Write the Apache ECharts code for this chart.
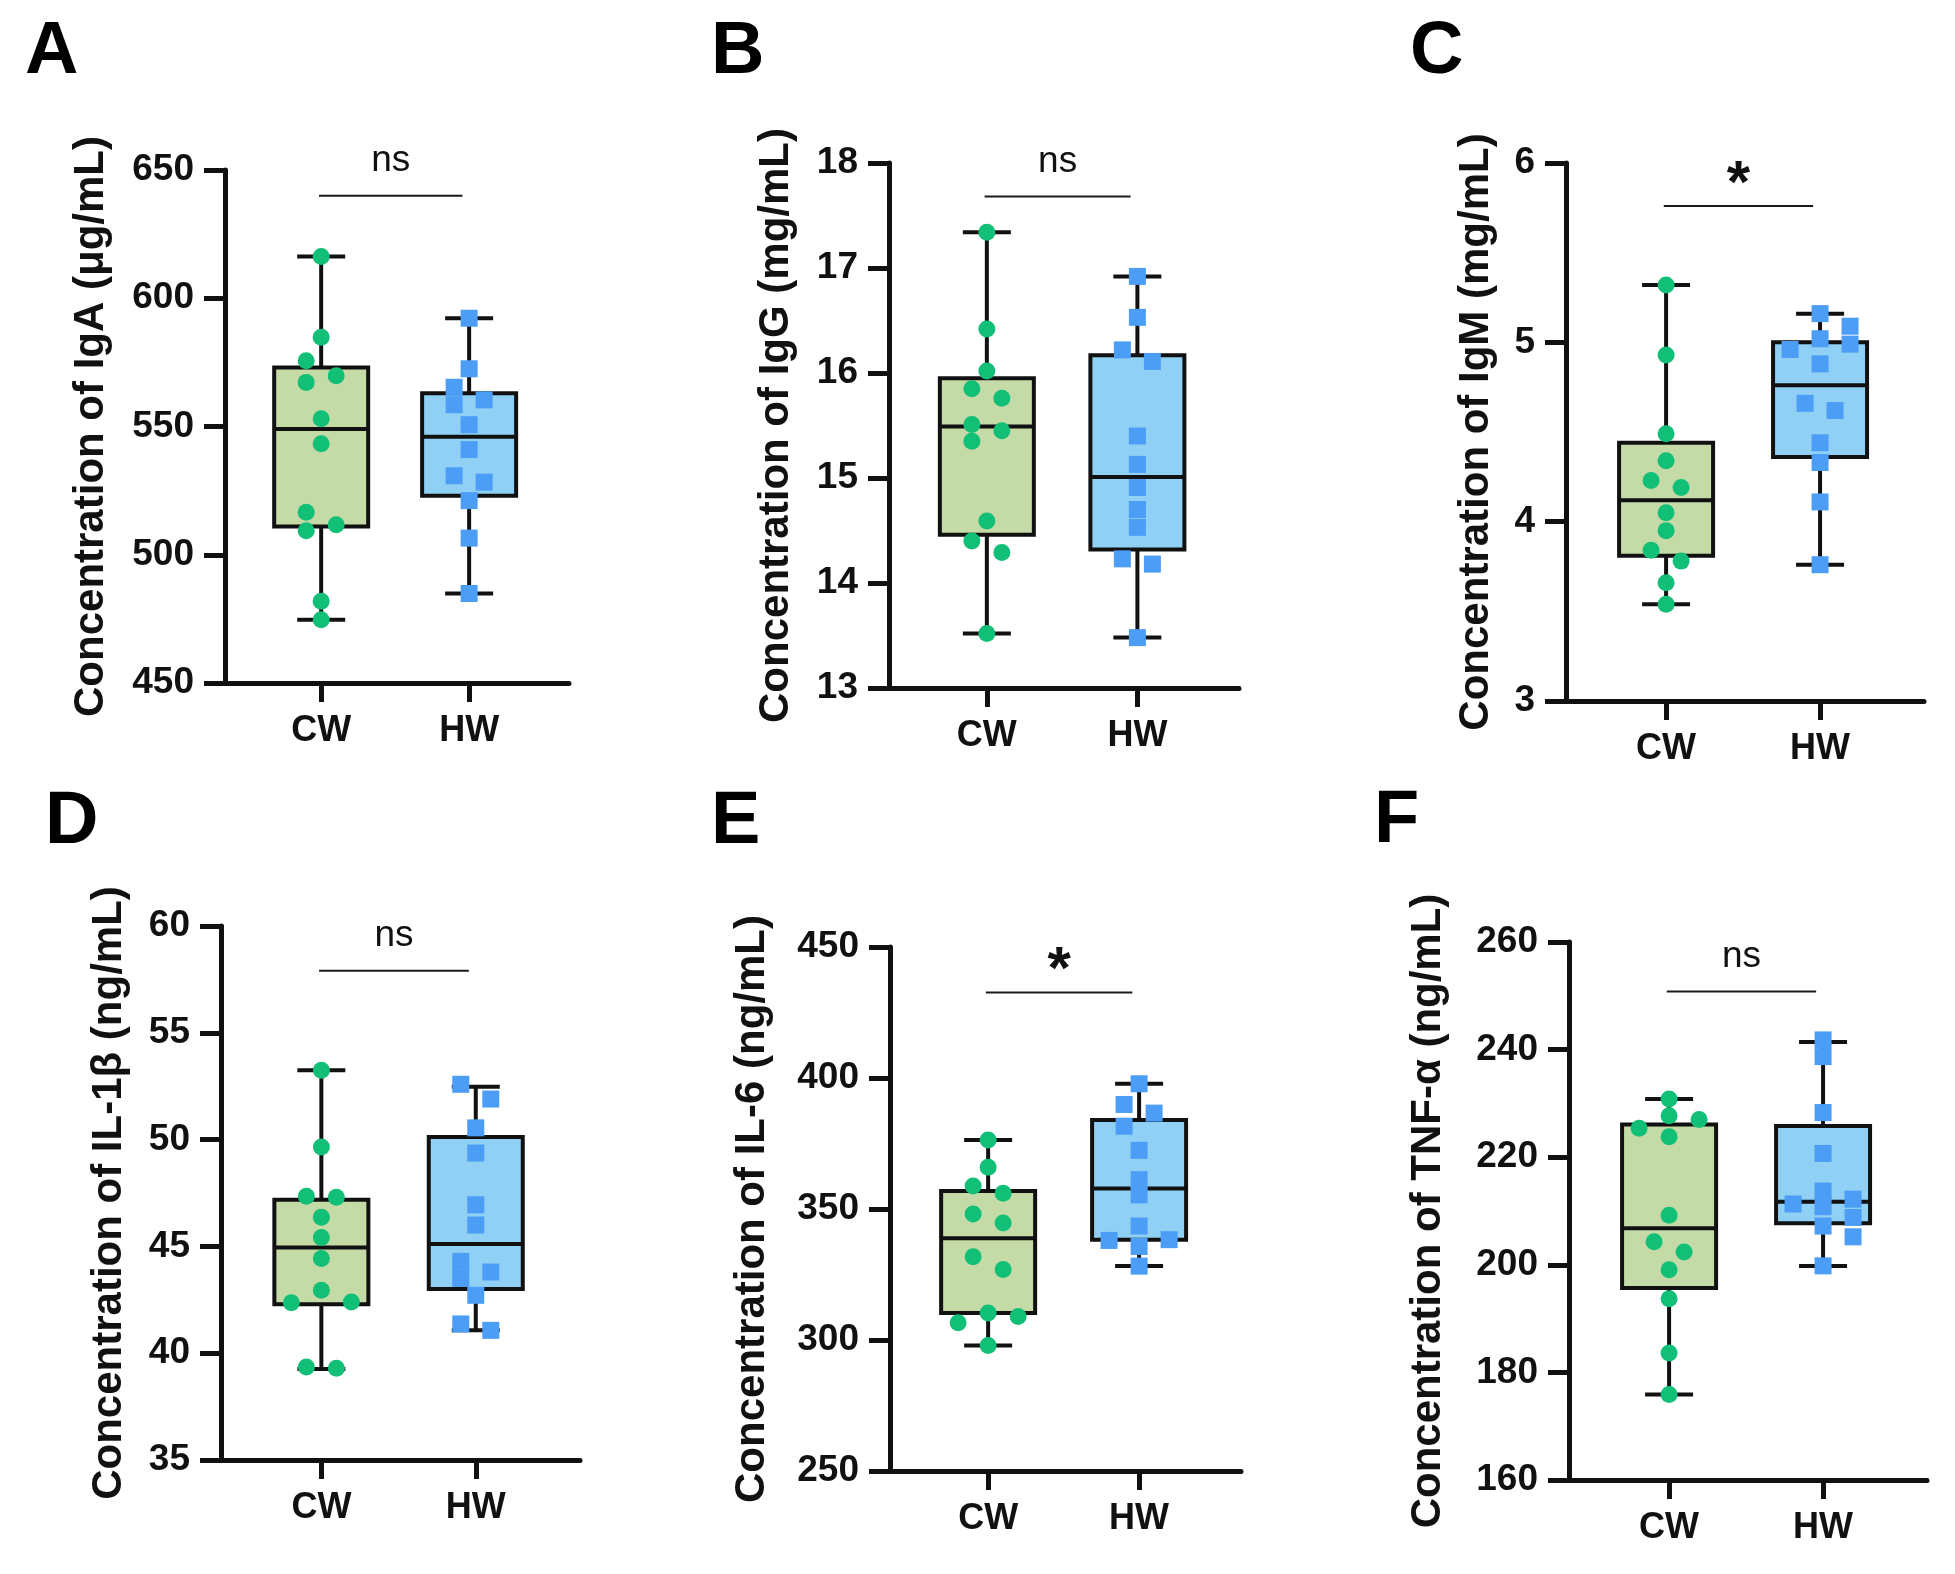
<!DOCTYPE html>
<html><head><meta charset="utf-8">
<script src="https://cdn.jsdelivr.net/npm/echarts@6/dist/echarts.min.js"></script>
<style>html,body{margin:0;padding:0;background:#fff;overflow:hidden}#c{width:1955px;height:1574px}</style>
</head><body><div id="c"></div>
<script>
// ---------- DATA ----------
const groups = ['CW', 'HW'];
const panelLetters = ['A', 'B', 'C', 'D', 'E', 'F'];
const yTitles = [
  'Concentration of IgA (\u03bcg/mL)',
  'Concentration of IgG (mg/mL)',
  'Concentration of IgM (mg/mL)',
  'Concentration of IL-1\u03b2 (ng/mL)',
  'Concentration of IL-6 (ng/mL)',
  'Concentration of TNF-\u03b1 (ng/mL)'
];
const yMins = [450, 13, 3, 35, 250, 160];
const yMaxs = [650, 18, 6, 60, 450, 260];
const yIntervals = [50, 1, 1, 5, 50, 20];
const sigLabels = ['ns', 'ns', '*', 'ns', '*', 'ns'];
const sigLevels = [640, 17.68, 5.76, 57.9, 432.6, 250.8];

// individual points
const igaCW = [616.3, 584.8, 575.6, 569.8, 567.2, 553.0, 543.3, 516.6, 511.7, 509.4, 481.9, 474.7];
const igaHW = [592.2, 572.5, 565.3, 560.4, 558.5, 550.7, 541.0, 530.8, 528.3, 521.1, 506.5, 484.9];
const iggCW = [17.34, 16.42, 16.02, 15.85, 15.76, 15.51, 15.45, 15.35, 14.59, 14.40, 14.29, 13.52];
const iggHW = [16.92, 16.53, 16.22, 16.11, 15.40, 15.13, 14.91, 14.70, 14.53, 14.23, 14.18, 13.48];
const igmCW = [5.32, 4.93, 4.49, 4.34, 4.23, 4.19, 4.05, 3.95, 3.84, 3.78, 3.66, 3.54];
const igmHW = [5.16, 5.09, 5.02, 4.99, 4.96, 4.88, 4.66, 4.62, 4.44, 4.33, 4.11, 3.76];
const il1bCW = [53.25, 49.65, 47.35, 47.30, 46.36, 45.42, 44.43, 42.95, 42.40, 42.36, 39.35, 39.30];
const il1bHW = [52.59, 51.90, 50.55, 49.37, 46.95, 46.00, 44.30, 43.80, 43.50, 42.71, 41.37, 41.07];
const il6CW = [376.3, 365.9, 358.8, 356.0, 348.1, 344.7, 331.8, 326.9, 310.3, 309.0, 306.6, 297.9];
const il6HW = [397.8, 389.9, 386.6, 381.6, 372.4, 361.2, 355.4, 343.5, 338.3, 338.0, 335.7, 328.2];
const tnfCW = [230.8, 227.7, 227.0, 225.4, 223.8, 209.2, 204.3, 202.4, 199.1, 193.7, 183.6, 175.9];
const tnfHW = [241.8, 238.7, 228.3, 220.7, 213.7, 212.2, 211.3, 210.8, 208.8, 207.2, 205.2, 199.8];

// box statistics: [min, Q1, median, Q3, max]
const igaCWBox = [474.7, 511, 549, 573, 616.3];
const igaHWBox = [484.9, 523, 546, 563, 592.2];
const iggCWBox = [13.52, 14.46, 15.49, 15.95, 17.34];
const iggHWBox = [13.48, 14.32, 15.01, 16.17, 16.92];
const igmCWBox = [3.54, 3.81, 4.12, 4.44, 5.32];
const igmHWBox = [3.76, 4.36, 4.76, 5.00, 5.16];
const il1bCWBox = [39.26, 42.29, 44.95, 47.18, 53.25];
const il1bHWBox = [41.07, 43.00, 45.11, 50.12, 52.47];
const il6CWBox = [297.9, 310.3, 338.8, 356.9, 376.3];
const il6HWBox = [328.2, 338.3, 357.8, 384.0, 397.8];
const tnfCWBox = [175.9, 195.7, 206.8, 226.1, 230.8];
const tnfHWBox = [199.8, 207.7, 211.7, 225.8, 241.4];

const pointsCW = [igaCW, iggCW, igmCW, il1bCW, il6CW, tnfCW];
const pointsHW = [igaHW, iggHW, igmHW, il1bHW, il6HW, tnfHW];
const boxesCW = [igaCWBox, iggCWBox, igmCWBox, il1bCWBox, il6CWBox, tnfCWBox];
const boxesHW = [igaHWBox, iggHWBox, igmHWBox, il1bHWBox, il6HWBox, tnfHWBox];

// ---------- LAYOUT / STYLE ----------
const gridRects = [
  {left: 225, top: 170, width: 344, height: 513},
  {left: 889, top: 163, width: 350, height: 525},
  {left: 1566, top: 163, width: 358, height: 538},
  {left: 221, top: 926, width: 359, height: 534},
  {left: 890, top: 947, width: 351, height: 524},
  {left: 1569, top: 942, width: 358, height: 538}
];
const nameGaps = [113, 92, 69, 91, 117, 120];
// [glyph left, glyph vertical centre]
const letterPos = [[25, 53], [711, 53], [1410, 53], [45, 823], [711, 823], [1374, 822]];
const X_MIN = -0.65, X_MAX = 1.675;
const FONT = "'Liberation Sans', Arial, Helvetica, sans-serif";
const INK = '#111111';
const dotColors = ['#12BF77', '#4C9DF6'];
const boxFills = ['#C4DBA8', '#8FD0F4'];
const BOX_HALF = 47, CAP_HALF = 24, COL_PX = 30, THR_PX = 15, SYM = 17, LW = 4, AXIS_LW = 5;

// beeswarm offsets (in px) computed from the values and the axis scale
function swarm(vals, pxPerUnit) {
  const idx = vals.map((v, i) => i).sort((a, b) => vals[b] - vals[a]);
  const col = new Array(vals.length).fill(0);
  const placed = [];
  const cand = [0, 1, -1, 2, -2, 3, -3];
  idx.forEach(i => {
    const y = vals[i] * pxPerUnit;
    for (const c of cand) {
      const ok = placed.every(p => Math.abs(p.y - y) >= THR_PX || p.c !== c);
      if (ok) { placed.push({y, c}); col[i] = c; break; }
    }
  });
  let start = 0;
  for (let k = 1; k <= idx.length; k++) {
    if (k === idx.length || (vals[idx[k - 1]] - vals[idx[k]]) * pxPerUnit >= THR_PX) {
      const cl = idx.slice(start, k);
      const cs = cl.map(i => col[i]);
      const mid = (Math.min(...cs) + Math.max(...cs)) / 2;
      cl.forEach(i => { col[i] -= mid; });
      start = k;
    }
  }
  return col.map(c => c * COL_PX);
}

function boxRender(params, api) {
  const x = api.value(0);
  const g = Math.round(x);
  const pMin = api.coord([x, api.value(1)]);
  const pQ1 = api.coord([x, api.value(2)]);
  const pMd = api.coord([x, api.value(3)]);
  const pQ3 = api.coord([x, api.value(4)]);
  const pMax = api.coord([x, api.value(5)]);
  const cx = pMin[0];
  const st = {stroke: INK, lineWidth: LW};
  return {type: 'group', children: [
    {type: 'line', shape: {x1: cx, y1: pMax[1], x2: cx, y2: pQ3[1]}, style: st},
    {type: 'line', shape: {x1: cx, y1: pQ1[1], x2: cx, y2: pMin[1]}, style: st},
    {type: 'line', shape: {x1: cx - CAP_HALF, y1: pMax[1], x2: cx + CAP_HALF, y2: pMax[1]}, style: st},
    {type: 'line', shape: {x1: cx - CAP_HALF, y1: pMin[1], x2: cx + CAP_HALF, y2: pMin[1]}, style: st},
    {type: 'rect', shape: {x: cx - BOX_HALF, y: pQ3[1], width: 2 * BOX_HALF, height: pQ1[1] - pQ3[1]},
      style: {fill: boxFills[g], stroke: INK, lineWidth: LW}},
    {type: 'line', shape: {x1: cx - BOX_HALF, y1: pMd[1], x2: cx + BOX_HALF, y2: pMd[1]}, style: st}
  ]};
}

function sigRender(label) {
  return function (params, api) {
    const p1 = api.coord([api.value(0), api.value(2)]);
    const p2 = api.coord([api.value(1), api.value(2)]);
    const star = label === '*';
    return {type: 'group', children: [
      {type: 'line', shape: {x1: p1[0], y1: p1[1], x2: p2[0], y2: p2[1]}, style: {stroke: '#1a1a1a', lineWidth: 2}},
      {type: 'text', x: (p1[0] + p2[0]) / 2, y: p1[1] - (star ? 21 : 35),
        style: {text: label, fill: INK, font: (star ? 'bold 60px ' : '37px ') + FONT,
          textAlign: 'center', textVerticalAlign: 'middle'}}
    ]};
  };
}

const grid = [], xAxis = [], yAxis = [], series = [], graphic = [];
for (let i = 0; i < 6; i++) {
  const r = gridRects[i];
  grid.push({left: r.left, top: r.top, width: r.width, height: r.height, containLabel: false});
  xAxis.push({
    gridIndex: i, type: 'value', min: X_MIN, max: X_MAX,
    axisLine: {show: true, onZero: false, lineStyle: {color: INK, width: AXIS_LW}},
    axisTick: {show: true, customValues: [0, 1], length: 19, lineStyle: {color: INK, width: AXIS_LW}},
    axisLabel: {show: true, customValues: [0, 1], formatter: v => groups[Math.round(v)] || '',
      color: INK, fontFamily: FONT, fontWeight: 'bold', fontSize: 36, margin: 30},
    splitLine: {show: false}
  });
  yAxis.push({
    gridIndex: i, type: 'value', min: yMins[i], max: yMaxs[i], interval: yIntervals[i],
    name: yTitles[i], nameLocation: 'middle', nameGap: nameGaps[i],
    nameTextStyle: {color: INK, fontFamily: FONT, fontWeight: 'bold', fontSize: 42},
    axisLine: {show: true, onZero: false, lineStyle: {color: INK, width: AXIS_LW}},
    axisTick: {show: true, length: 21, lineStyle: {color: INK, width: AXIS_LW}},
    axisLabel: {color: INK, fontFamily: FONT, fontWeight: 'bold', fontSize: 37, margin: 31},
    splitLine: {show: false}
  });
  series.push({
    type: 'custom', xAxisIndex: i, yAxisIndex: i, z: 1, clip: false,
    renderItem: boxRender,
    encode: {x: 0, y: [1, 2, 3, 4, 5]},
    data: [[0].concat(boxesCW[i]), [1].concat(boxesHW[i])]
  });
  const pxPerUnitY = r.height / (yMaxs[i] - yMins[i]);
  const unitsPerPxX = (X_MAX - X_MIN) / r.width;
  [pointsCW[i], pointsHW[i]].forEach((vals, g) => {
    const off = swarm(vals, pxPerUnitY);
    series.push({
      type: 'scatter', xAxisIndex: i, yAxisIndex: i, z: 3,
      symbol: g === 0 ? 'circle' : 'rect', symbolSize: SYM,
      itemStyle: {color: dotColors[g], opacity: 1},
      emphasis: {disabled: true},
      data: vals.map((v, k) => [g + off[k] * unitsPerPxX, v])
    });
  });
  series.push({
    type: 'custom', xAxisIndex: i, yAxisIndex: i, z: 2, clip: false,
    renderItem: sigRender(sigLabels[i]),
    encode: {x: [0, 1], y: 2},
    data: [[-0.015, 0.955, sigLevels[i]]]
  });
  graphic.push({
    type: 'text', x: letterPos[i][0], y: letterPos[i][1],
    style: {text: panelLetters[i], fill: '#000', font: 'bold 74px ' + FONT,
      textAlign: 'left', textVerticalAlign: 'middle'}
  });
}

const chart = echarts.init(document.getElementById('c'), null, {renderer: 'canvas'});
chart.setOption({
  animation: false,
  backgroundColor: '#ffffff',
  grid, xAxis, yAxis, series, graphic
});
</script></body></html>
